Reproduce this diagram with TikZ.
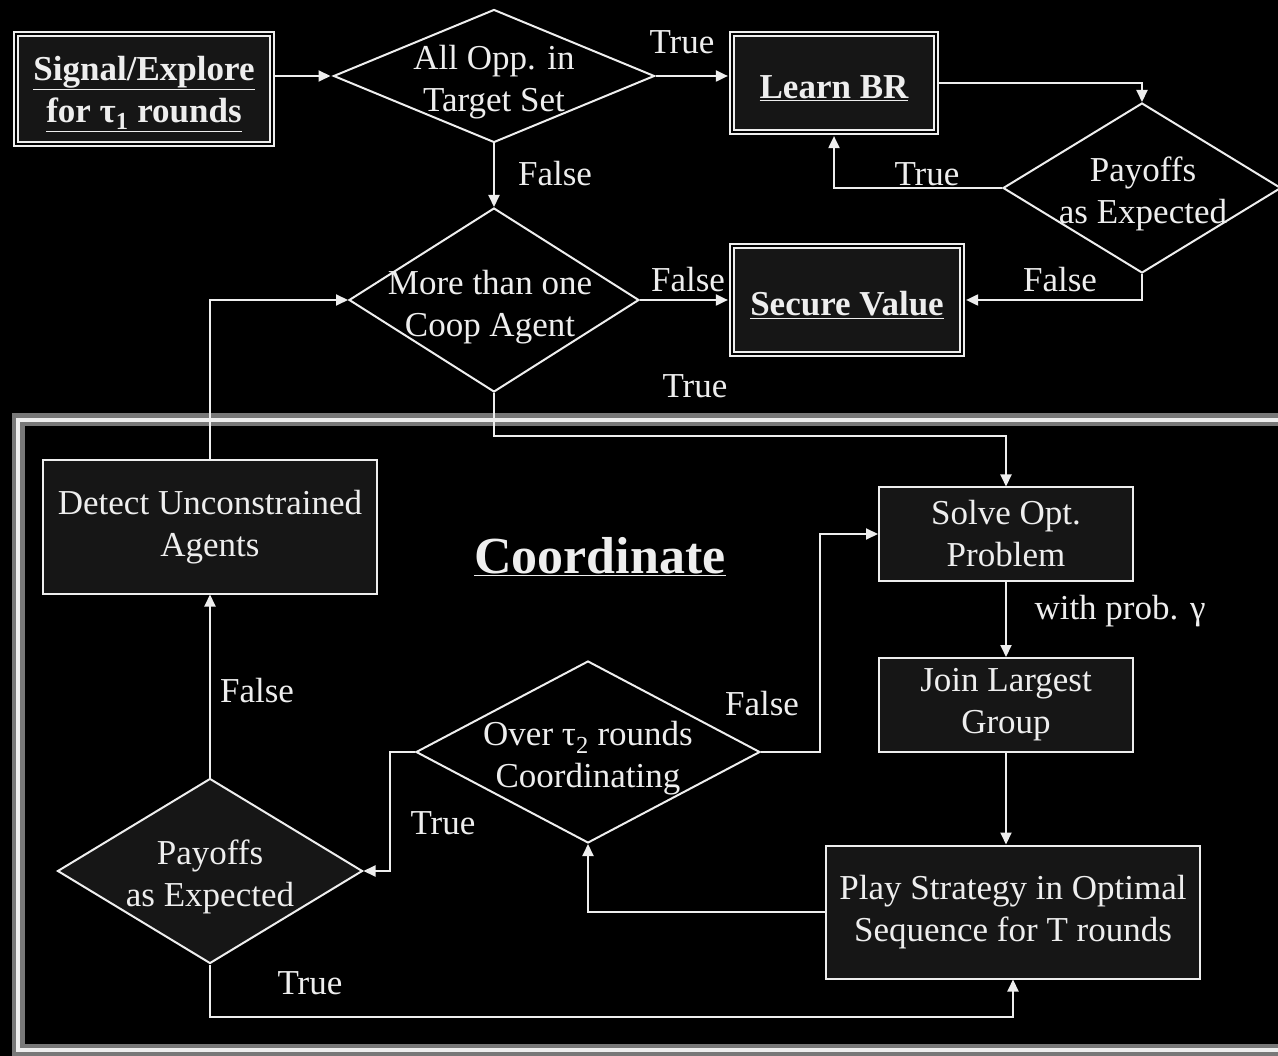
\documentclass[tikz,border=0pt]{standalone}
\usepackage{fontspec}
\setmainfont{Liberation Serif}
\usetikzlibrary{shapes.geometric,arrows.meta,calc}
\definecolor{boxfill}{RGB}{22,22,22}
\definecolor{ink}{RGB}{238,238,238}
\definecolor{framegray}{RGB}{120,120,120}
\begin{document}
\begin{tikzpicture}[x=1pt,y=-1pt,
  every node/.style={text=ink, font=\fontsize{35}{42}\selectfont},
  ln/.style={draw=ink, line width=2pt},
  arr/.style={ln, -{Triangle[length=12pt,width=11pt]}},
  dblbox/.style={draw=ink, double=black, double distance=2.5pt, line width=2.2pt,
    fill=boxfill, inner sep=0pt},
  btext/.style={inner sep=0pt, align=center, font=\fontsize{35}{42}\selectfont\bfseries},
  plainbox/.style={draw=ink, line width=2pt, fill=boxfill, align=center, inner sep=0pt},
  dia/.style={diamond, draw=ink, line width=2pt, inner sep=0pt, fill=black},
  dtext/.style={inner sep=0pt, align=center},
  lab/.style={inner sep=0pt},
]
\fill[black] (0,0) rectangle (1278,1056);
\useasboundingbox (0,0) rectangle (1278,1056);

% Coordinate frame
\begin{scope}
\clip (0,0) rectangle (1278,1056);
\draw[framegray, line width=13pt] (18,420) rectangle (1300,1050);
\draw[ink, line width=4pt] (18,420) rectangle (1300,1050);
\end{scope}

% boxes with double frame
\node[dblbox, minimum width=256pt, minimum height=110pt] (sig) at (144,89) {};
\node[btext] (sigt) at (144,94) {\underline{Signal/Explore}\\\underline{for τ\textsubscript{1} rounds}};
\node[dblbox, minimum width=204pt, minimum height=98pt] (lbr) at (834,83) {};
\node[btext] (lbrt) at (834,88) {\underline{Learn BR}};
\node[dblbox, minimum width=230pt, minimum height=108pt] (sv) at (847,300) {};
\node[btext] (svt) at (847,305) {\underline{Secure Value}};

% diamonds
\node[dia, minimum width=321pt, minimum height=133pt] (d1) at (494,76) {};
\node[dtext] (d1t) at (494,82) {All Opp. in\\Target Set};
\node[dia, minimum width=278pt, minimum height=170pt] (d2) at (1142,188) {};
\node[dtext] (d2t) at (1143,194) {Payoffs\\as Expected};
\node[dia, minimum width=290pt, minimum height=184pt] (d3) at (494,300) {};
\node[dtext] (d3t) at (490,307) {More than one\\Coop Agent};
\node[dia, minimum width=344pt, minimum height=182pt] (d4) at (588,752) {};
\node[dtext] (d4t) at (588,758) {Over τ\textsubscript{2} rounds\\Coordinating};
\node[dia, fill=boxfill, minimum width=305pt, minimum height=185pt] (d5) at (210,871) {};
\node[dtext] (d5t) at (210,877) {Payoffs\\as Expected};

% plain boxes
\node[plainbox, minimum width=334pt, minimum height=133pt] (det) at (210,527) {Detect Unconstrained\\Agents};
\node[plainbox, minimum width=254pt, minimum height=93pt] (sol) at (1006,534) {Solve Opt.\\Problem};
\node[plainbox, minimum width=254pt, minimum height=94pt] (join) at (1006,705) {Join Largest\\Group};
\node[plainbox, minimum width=374pt, minimum height=133pt] (play) at (1013,912) {Play Strategy in Optimal\\Sequence for T rounds};

% title
\node[lab, font=\fontsize{52}{60}\selectfont\bfseries] (title) at (600,557) {\underline{Coordinate}};

% helper coordinates
\coordinate (c1) at (494,436);
\coordinate (c2) at (820,752);
\coordinate (c3) at (390,752);
\coordinate (c4) at (210,1017);

% connectors
\draw[arr, shorten >=2pt] (sig.east |- d1.west) -- (d1.west);
\draw[arr, shorten >=3pt] (d1.east) -- (lbr.west |- d1.east);
\draw[arr] (lbr.east) -| (d2.north);
\draw[arr, shorten >=3pt] (d2.west) -| (lbr.south);
\draw[arr, shorten >=3pt] (d2.south) |- (sv.east);
\draw[arr] (d1.south) -- (d3.north);
\draw[arr, shorten >=3pt] (d3.east) -- (sv.west |- d3.east);
\draw[arr] (d3.south) -- (c1) -| (sol.north);
\draw[arr] (det.north) |- (d3.west);
\draw[arr] (sol.south) -- (join.north);
\draw[arr] (join.south) -- (join.south |- play.north);
\draw[arr] (play.west) -| (d4.south);
\draw[arr] (d4.east) -- (c2) |- (sol.west);
\draw[arr] (d4.west) -- (c3) |- (d5.east);
\draw[arr] (d5.north) -- (det.south);
\draw[arr] (d5.south) -- (c4) -| (play.south);

% labels
\node[lab] (l1) at (682,42) {True};
\node[lab] (l2) at (555,174) {False};
\node[lab] (l3) at (927,174) {True};
\node[lab] (l4) at (688,280) {False};
\node[lab] (l5) at (1060,280) {False};
\node[lab] (l6) at (695,386) {True};
\node[lab] (l7) at (1120,611) {with prob. γ};
\node[lab] (l8) at (257,691) {False};
\node[lab] (l9) at (762,704) {False};
\node[lab] (l10) at (443,823) {True};
\node[lab] (l11) at (310,983) {True};
\end{tikzpicture}
\end{document}
